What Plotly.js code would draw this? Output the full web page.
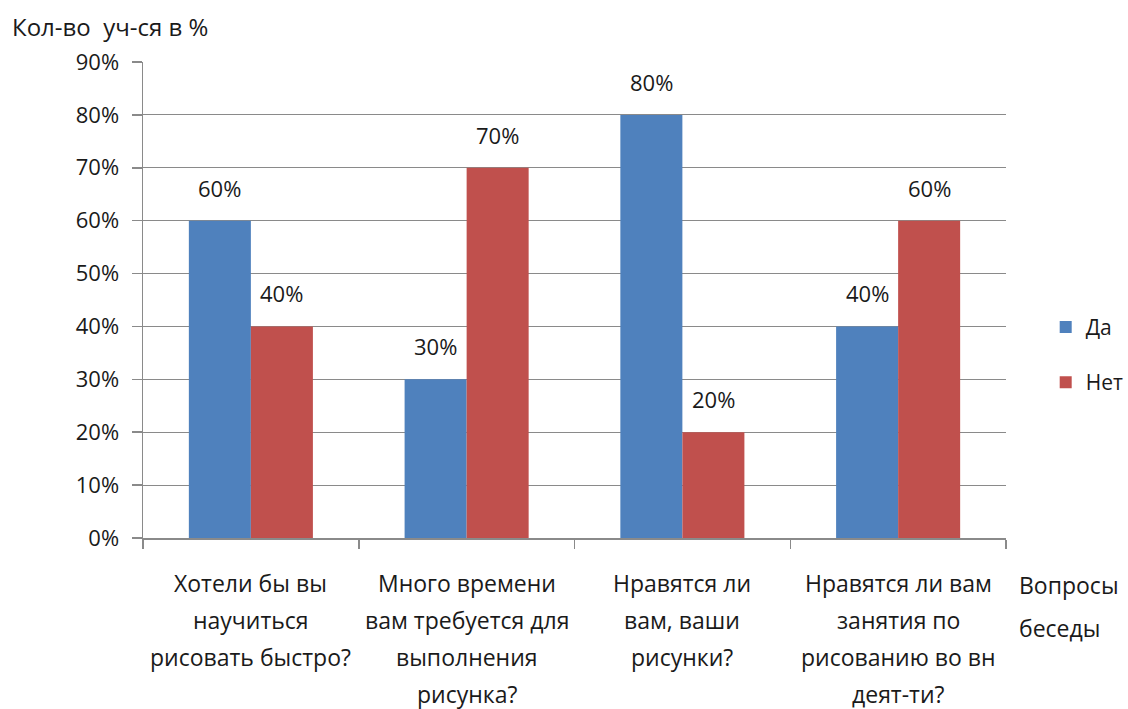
<!DOCTYPE html>
<html><head><meta charset="utf-8">
<script src="https://cdn.plot.ly/plotly-3.0.1.min.js"></script>
<style>body{margin:0;background:#fff}#c{width:1128px;height:709px}</style>
</head><body><div id="c"></div>
<script>
const categories = ["q1", "q2", "q3", "q4"];
const categoryLabels = [
  ["Хотели бы вы", "научиться", "рисовать быстро?"],
  ["Много времени", "вам требуется для", "выполнения", "рисунка?"],
  ["Нравятся ли", "вам, ваши", "рисунки?"],
  ["Нравятся ли вам", "занятия по", "рисованию во вн", "деят-ти?"]
];
const seriesNames = ["Да", "Нет"];
const daValues = [0.6, 0.3, 0.8, 0.4];
const netValues = [0.4, 0.7, 0.2, 0.6];
const yTitle = "Кол-во  уч-ся в %";
const xTitle = ["Вопросы", "беседы"];

const FONT = "'Open Sans', sans-serif";
const FS = 22;
const FL = 23;
const txtColor = "#1a1a1a";
const grid = "#8a8a8a";
const BARGAP = 0.425;

const mk = (name, vals, color, grp) => ({
  type: "bar", name: name, x: categories, y: vals,
  marker: {color: color},
  legendgroup: grp, hoverinfo: "skip"
});

const traces = [
  mk(seriesNames[0], daValues, "#4F81BD", "a"),
  mk(seriesNames[1], netValues, "#C0504D", "b")
];

const annotations = [];
const half = (1 - BARGAP) / 4;
[daValues, netValues].forEach((vals, s) => {
  vals.forEach((v, i) => {
    annotations.push({
      x: i + (s === 0 ? -half : half), xref: "x", y: v, yref: "y",
      yanchor: "bottom", yshift: 16, showarrow: false,
      text: Math.round(v * 100) + "%",
      font: {family: FONT, size: FS, color: txtColor}
    });
  });
});
categoryLabels.forEach((lines, i) => {
  lines.forEach((ln, j) => {
    annotations.push({
      x: i, xref: "x", y: 0, yref: "paper",
      yanchor: "middle", yshift: -45 - 37 * j, showarrow: false,
      text: ln, font: {family: FONT, size: FL, color: txtColor}
    });
  });
});
xTitle.forEach((ln, j) => {
  annotations.push({
    x: 1.013, xref: "paper", xanchor: "left", y: 0, yref: "paper",
    yanchor: "middle", yshift: -47 - 43 * j, showarrow: false,
    text: ln, font: {family: FONT, size: FL, color: txtColor}
  });
});
annotations.push({
  x: -0.154, xref: "paper", xanchor: "left", y: 1, yref: "paper",
  yanchor: "middle", yshift: 36, showarrow: false,
  text: yTitle, font: {family: FONT, size: 24, color: txtColor}
});

const layout = {
  width: 1128, height: 709,
  margin: {l: 143, r: 122, t: 62, b: 171, autoexpand: false},
  paper_bgcolor: "#fff", plot_bgcolor: "#fff",
  barmode: "group", bargap: BARGAP, bargroupgap: 0,
  font: {family: FONT, size: FS, color: txtColor},
  showlegend: true,
  legend: {x: 1.046, xanchor: "left", y: 0.385, yanchor: "middle",
    traceorder: "grouped", tracegroupgap: 25,
    font: {family: FONT, size: 21, color: txtColor}, itemwidth: 30},
  xaxis: {type: "category", showticklabels: false, tickson: "boundaries",
    ticks: "outside", ticklen: 9, tickcolor: grid, tickwidth: 1.5,
    showline: true, linecolor: grid, linewidth: 1.5, showgrid: false,
    range: [-0.5, 3.5]},
  yaxis: {range: [0, 0.9], dtick: 0.1, tickformat: ".0%",
    ticks: "outside", ticklen: 10, tickcolor: grid, tickwidth: 1.5,
    showline: true, linecolor: grid, linewidth: 1.5,
    showgrid: true, gridcolor: grid, gridwidth: 1.2, zeroline: false,
    ticklabelstandoff: 8, tickfont: {family: FONT, size: FS, color: txtColor}},
  annotations: annotations
};

Plotly.newPlot("c", traces, layout, {displayModeBar: false, staticPlot: true});
</script></body></html>
